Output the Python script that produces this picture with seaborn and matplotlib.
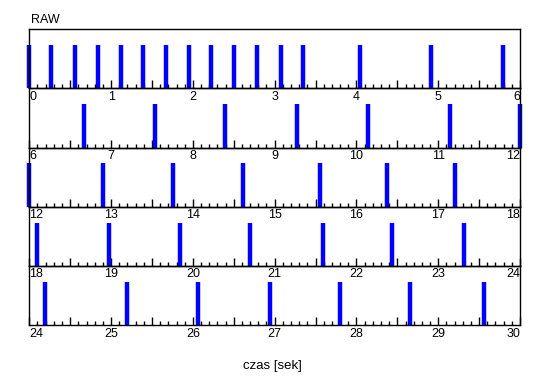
import numpy as np
import matplotlib
matplotlib.use('Agg')
import matplotlib.pyplot as plt
import seaborn as sns

# czasy zdarzen [s] dla kazdego wiersza
times_0_6 = [0.00, 0.26, 0.56, 0.84, 1.12, 1.39, 1.67, 1.95, 2.22, 2.50,
             2.78, 3.08, 3.35, 4.04, 4.91, 5.79]
times_6_12 = [6.67, 7.54, 8.39, 9.27, 10.14, 11.14, 12.00]
times_12_18 = [12.00, 12.90, 13.76, 14.61, 15.55, 16.37, 17.20]
times_18_24 = [18.09, 18.97, 19.84, 20.70, 21.59, 22.44, 23.31]
times_24_30 = [24.19, 25.20, 26.06, 26.94, 27.80, 28.65, 29.56]

rows = [times_0_6, times_6_12, times_12_18, times_18_24, times_24_30]
row_starts = [0, 6, 12, 18, 24]
row_len = 6

sns.set_theme(style='white')
plt.rcParams['font.family'] = ['Liberation Sans', 'DejaVu Sans']
plt.rcParams['text.color'] = 'black'

W, H = 550, 389
fig = plt.figure(figsize=(W / 100, H / 100), dpi=100)

# geometria w pikselach
x0, x1 = 29.3, 520.0
top = 29.3
row_h = 59.1

for i, (times, start) in enumerate(zip(rows, row_starts)):
    bottom_px = top + row_h * (i + 1)
    ax = fig.add_axes([x0 / W, 1 - bottom_px / H, (x1 - x0) / W, row_h / H])
    ax.set_facecolor('none')
    sns.rugplot(x=times, height=0.73, ax=ax, color='#0000ff', linewidth=3.2,
                clip_on=False, expand_margins=False)
    ax.set_xlim(start, start + row_len)
    ax.set_ylim(0, 1)
    ax.set_yticks([])

    # duze kreski co 0.5 s (opis tylko dla pelnych sekund), male co 0.1 s
    major = np.arange(start, start + row_len + 0.01, 0.5)
    labels = [str(int(t)) if abs(t - round(t)) < 1e-6 else '' for t in major]
    ax.set_xticks(major)
    ax.set_xticklabels(labels)
    ax.set_xticks(np.arange(start, start + row_len + 0.01, 0.1), minor=True)
    ax.tick_params(axis='x', which='major', direction='in', length=6, width=1,
                   pad=2, labelsize=9, colors='black', bottom=True)
    ax.tick_params(axis='x', which='minor', direction='in', length=3, width=1,
                   bottom=True, colors='black')
    tl = ax.get_xticklabels()
    tl[0].set_ha('left')
    tl[-1].set_ha('right')

    for s in ax.spines.values():
        s.set_color('black')
        s.set_linewidth(1)

fig.text(31 / W, 1 - 20 / H, 'RAW', fontsize=9, va='center', ha='left')
fig.text(272 / W, 1 - 366.5 / H, 'czas [sek]', fontsize=9.5, va='center', ha='center')

fig.savefig('out.png', dpi=100)
